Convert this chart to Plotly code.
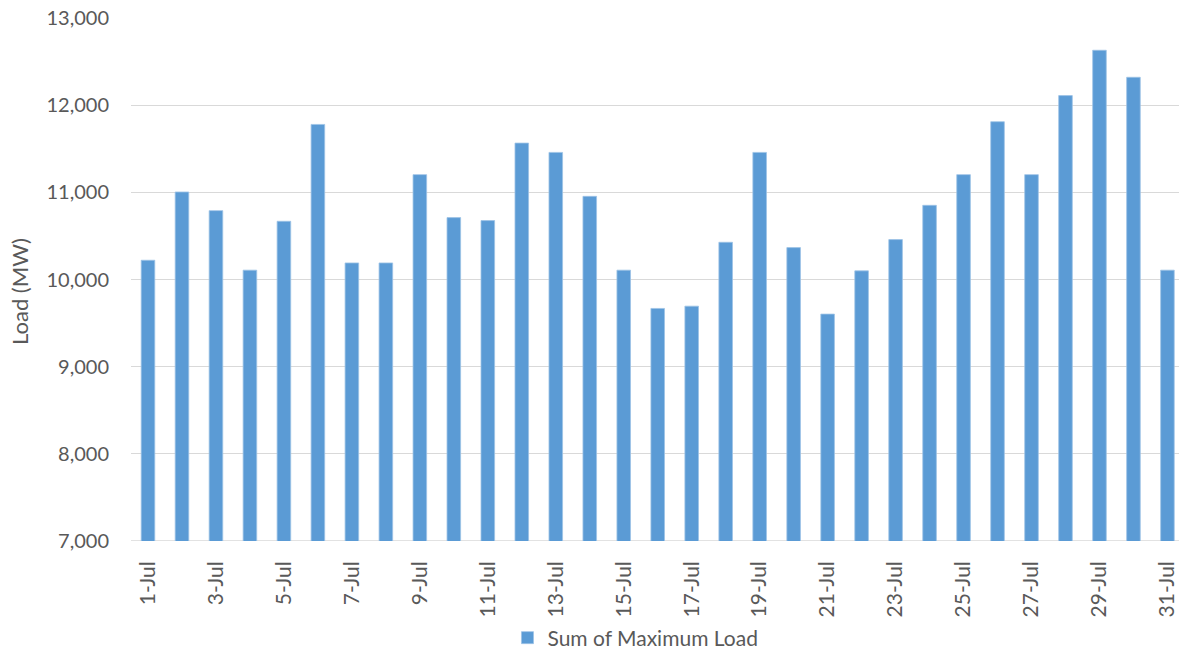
import plotly.graph_objects as go

days = [f"{d}-Jul" for d in range(1, 32)]
max_load = [10221, 11004, 10790, 10107, 10668, 11779, 10190, 10190, 11203, 10710,
            10676, 11565, 11458, 10954, 10107, 9668, 9694, 10427, 11458, 10366,
            9603, 10099, 10458, 10851, 11203, 11810, 11203, 12110, 12630, 12320,
            10107]
y_ticks = [7000, 8000, 9000, 10000, 11000, 12000, 13000]
x_tick_labels = days[::2]

fig = go.Figure()
fig.add_trace(go.Bar(
    x=days, y=max_load, name="Sum of Maximum Load",
    marker=dict(color="#5B9BD5", line=dict(color="#9DC3E6", width=0.8)),
    showlegend=True,
))

font_fam = "Lato, 'Open Sans', sans-serif"
fig.update_layout(
    width=1179, height=653,
    margin=dict(l=131, r=0, t=18, b=112, autoexpand=False),
    plot_bgcolor="white", paper_bgcolor="white",
    bargap=0.6,
    font=dict(family=font_fam, color="#595959", size=20),
    showlegend=True,
    legend=dict(orientation="h", xref="container", yref="container",
                x=0.539, xanchor="center", y=0.023, yanchor="middle",
                font=dict(size=21, color="#595959")),
)
fig.update_xaxes(
    type="category", range=[-0.5, 30.34], automargin=False,
    tickmode="array", tickvals=x_tick_labels, ticktext=x_tick_labels,
    tickangle=-90, showgrid=False, showline=False, ticks="",
    tickfont=dict(size=21, color="#595959"),
    ticklabelstandoff=15,
)
fig.update_yaxes(
    range=[7000, 13000], tickmode="array", tickvals=y_ticks, automargin=False,
    tickformat=",d", showgrid=True, gridcolor="#D9D9D9", gridwidth=1,
    zeroline=False, showline=False, ticks="",
    tickfont=dict(size=20, color="#595959"),
    ticklabelstandoff=21,
)
fig.add_annotation(
    text="Load (MW)", textangle=-90, showarrow=False,
    xref="paper", yref="paper", x=-0.1064, y=0.477,
    xanchor="center", yanchor="middle",
    font=dict(size=22, color="#595959"),
)
fig.add_hline(y=7000, line=dict(color="#D9D9D9", width=1.5), layer="below")

fig.write_html("out.html", config={"displayModeBar": False},
               post_script="document.body.style.margin='0';")
